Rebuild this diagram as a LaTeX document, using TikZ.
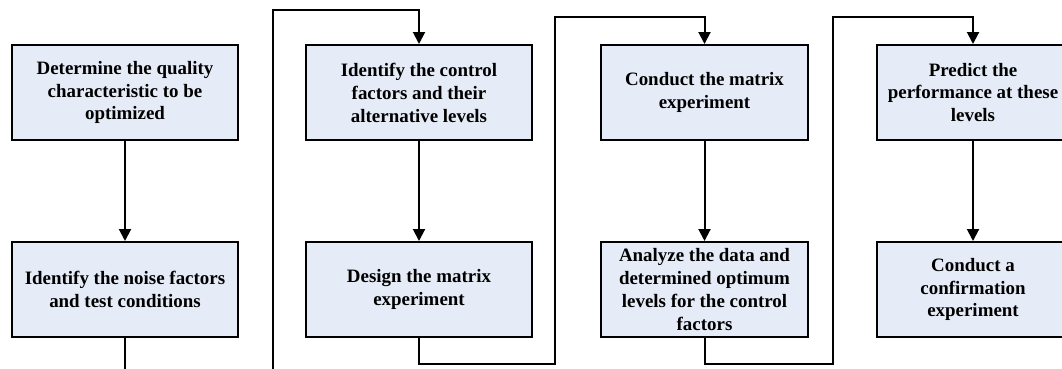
\documentclass[tikz,border=0pt]{standalone}
\usepackage{fontspec}
\setmainfont{Liberation Serif}
\usepackage{xcolor}
\usetikzlibrary{arrows.meta, positioning, calc}
\definecolor{boxblue}{RGB}{230,236,247}
\tikzset{stepbox/.style={draw=black, line width=1.5pt, fill=boxblue, align=center, inner sep=2pt, minimum height=71.25pt, font=\bfseries\fontsize{14.2}{17.2}\selectfont}}
\tikzset{arrow/.style={line width=1.5pt, -{Triangle[length=9pt, width=9pt]}}}
\tikzset{link/.style={line width=1.5pt}}

\begin{document}
\begin{tikzpicture}[x=0.75pt, y=-0.75pt, node distance=75pt]
\useasboundingbox (0,0) rectangle (1062,368);
\clip (0,0) rectangle (1062,368);
% first column
\node[stepbox, minimum width=169.5pt] (quality) at (125,92.5) {Determine the quality\\characteristic to be\\optimized};
\node[stepbox, minimum width=169.5pt, below=of quality] (noise) {Identify the noise factors\\and test conditions};
% second column
\node[stepbox, minimum width=169.5pt] (control) at (419,92.5) {Identify the control\\factors and their\\alternative levels};
\node[stepbox, minimum width=169.5pt, below=of control] (design) {Design the matrix\\experiment};
% third column
\node[stepbox, minimum width=155.25pt] (conduct) at (704.5,92.5) {Conduct the matrix\\experiment};
\node[stepbox, minimum width=155.25pt, below=of conduct] (analyze) {Analyze the data and\\determined optimum\\levels for the control\\factors};
% fourth column
\node[stepbox, minimum width=144pt] (predict) at (973,92.5) {Predict the\\performance at these\\levels};
\node[stepbox, minimum width=144pt, below=of predict] (confirm) {Conduct a\\confirmation\\experiment};

\coordinate (outA) at (125,370);
\coordinate (inB) at (273,370);

\draw[arrow] (quality) -- (noise);
\draw[arrow] (control) -- (design);
\draw[arrow] (conduct) -- (analyze);
\draw[arrow] (predict) -- (confirm);

\draw[link] (noise.south) -- (outA);
\draw[arrow] (inB) -- (273,10) -| (control.north);
\draw[arrow] (design.south) -- ++(0,26) -| (555,17) -| (conduct.north);
\draw[arrow] (analyze.south) -- ++(0,26) -| (833,17) -| (predict.north);
\end{tikzpicture}
\end{document}
